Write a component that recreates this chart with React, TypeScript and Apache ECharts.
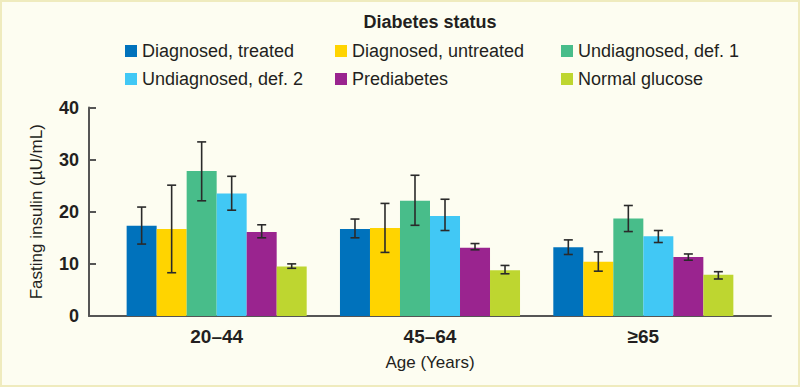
import React, { useEffect, useRef } from "react";
import * as echarts from "echarts";

const categories = ["20–44", "45–64", "≥65"];
const seriesNames = [
  "Diagnosed, treated",
  "Diagnosed, untreated",
  "Undiagnosed, def. 1",
  "Undiagnosed, def. 2",
  "Prediabetes",
  "Normal glucose",
];
const colors = ["#0072BC", "#FFD400", "#48BD8A", "#41C8F5", "#9A248F", "#BED630"];

const diagnosedTreated = [17.3, 16.7, 13.2];
const diagnosedUntreated = [16.7, 16.9, 10.4];
const undiagnosedDef1 = [27.8, 22.1, 18.7];
const undiagnosedDef2 = [23.5, 19.2, 15.3];
const prediabetes = [16.1, 13.1, 11.3];
const normalGlucose = [9.5, 8.8, 7.9];

const diagnosedTreatedLow = [13.8, 15.0, 11.8];
const diagnosedTreatedHigh = [20.9, 18.6, 14.6];
const diagnosedUntreatedLow = [8.3, 12.2, 8.6];
const diagnosedUntreatedHigh = [25.1, 21.6, 12.3];
const undiagnosedDef1Low = [22.1, 17.4, 16.2];
const undiagnosedDef1High = [33.4, 27.0, 21.2];
const undiagnosedDef2Low = [20.3, 16.4, 14.1];
const undiagnosedDef2High = [26.8, 22.4, 16.4];
const prediabetesLow = [15.0, 12.7, 10.7];
const prediabetesHigh = [17.5, 13.9, 11.9];
const normalGlucoseLow = [9.15, 8.1, 7.1];
const normalGlucoseHigh = [10.0, 9.7, 8.5];

const yTicks = [0, 10, 20, 30, 40];

const values = [diagnosedTreated, diagnosedUntreated, undiagnosedDef1, undiagnosedDef2, prediabetes, normalGlucose];
const lows = [diagnosedTreatedLow, diagnosedUntreatedLow, undiagnosedDef1Low, undiagnosedDef2Low, prediabetesLow, normalGlucoseLow];
const highs = [diagnosedTreatedHigh, diagnosedUntreatedHigh, undiagnosedDef1High, undiagnosedDef2High, prediabetesHigh, normalGlucoseHigh];

const FONT = "'Liberation Sans', Arial, sans-serif";
const TEXT = "#231f20";
const GAP_RATIO = 0.156;

export default function App() {
  const ref = useRef<HTMLDivElement>(null);
  useEffect(() => {
    document.body.style.margin = "0";
    const chart = echarts.init(ref.current!, null, { renderer: "svg" });
    const n = seriesNames.length;
    const bars = seriesNames.map((name, i) => ({
      name,
      type: "bar",
      xAxisIndex: 0,
      yAxisIndex: 0,
      data: values[i],
      itemStyle: { color: colors[i] },
      barGap: "0%",
      barCategoryGap: GAP_RATIO * 100 + "%",
    }));
    const errs = seriesNames.map((name, i) => ({
      type: "custom",
      xAxisIndex: 0,
      yAxisIndex: 0,
      silent: true,
      z: 5,
      data: categories.map((_, c) => [c, lows[i][c], highs[i][c]]),
      encode: { x: 0, y: [1, 2] },
      renderItem: (params: any, api: any) => {
        const c = api.value(0);
        const bandW = api.size([1, 0])[0];
        const barW = (bandW * (1 - GAP_RATIO)) / n;
        const p1 = api.coord([c, api.value(1)]);
        const p2 = api.coord([c, api.value(2)]);
        const x = p1[0] + (i - (n - 1) / 2) * barW;
        const hw = 4.5;
        const style = { stroke: "#2a2a2a", lineWidth: 1.6 };
        return {
          type: "group",
          children: [
            { type: "line", shape: { x1: x, y1: p1[1], x2: x, y2: p2[1] }, style },
            { type: "line", shape: { x1: x - hw, y1: p1[1], x2: x + hw, y2: p1[1] }, style },
            { type: "line", shape: { x1: x - hw, y1: p2[1], x2: x + hw, y2: p2[1] }, style },
          ],
        };
      },
    }));
    const legendCommon = {
      orient: "vertical",
      top: 42,
      padding: 0,
      itemWidth: 12,
      itemHeight: 12,
      itemGap: 10,
      icon: "rect",
      selectedMode: false,
      textStyle: { fontFamily: FONT, fontSize: 18, color: TEXT, lineHeight: 18 },
    };
    chart.setOption({
      animation: false,
      backgroundColor: "#FDFDF1",
      graphic: [
        {
          type: "rect",
          shape: { x: 1, y: 1, width: 798, height: 385 },
          style: { fill: "none", stroke: "#EFEBBE", lineWidth: 2 },
        },
        {
          type: "text",
          x: 430,
          y: 22,
          style: {
            text: "Diabetes status",
            fontFamily: FONT,
            fontSize: 18,
            fontWeight: "bold",
            fill: TEXT,
            textAlign: "center",
            textVerticalAlign: "middle",
          },
        },
      ],
      legend: [
        { ...legendCommon, left: 125, data: [seriesNames[0], seriesNames[3]] },
        { ...legendCommon, left: 335, data: [seriesNames[1], seriesNames[4]] },
        { ...legendCommon, left: 561, data: [seriesNames[2], seriesNames[5]] },
      ],
      grid: [
        { left: 110, right: 50, top: 107.5, bottom: 71 },
        { left: 89, right: 29, top: 107.5, bottom: 71 },
      ],
      xAxis: [
        {
          type: "category",
          gridIndex: 0,
          data: categories,
          axisLine: { show: false },
          axisTick: { show: false },
          axisLabel: { fontFamily: FONT, fontSize: 19, fontWeight: "bold", color: TEXT, margin: 11 },
          name: "Age (Years)",
          nameLocation: "middle",
          nameGap: 38,
          nameTextStyle: { fontFamily: FONT, fontSize: 17, color: TEXT },
        },
        {
          type: "value",
          gridIndex: 1,
          min: 0,
          max: 1,
          axisLine: { show: true, lineStyle: { color: "#555555", width: 2 } },
          axisTick: { show: false },
          axisLabel: { show: false },
          splitLine: { show: false },
        },
      ],
      yAxis: [
        {
          type: "value",
          gridIndex: 0,
          min: 0,
          max: 40,
          interval: 10,
          show: false,
        },
        {
          type: "value",
          gridIndex: 1,
          min: yTicks[0],
          max: yTicks[yTicks.length - 1],
          interval: 10,
          axisLine: { show: true, lineStyle: { color: "#555555", width: 2 } },
          axisTick: { show: true, inside: true, length: 7, lineStyle: { color: "#555555", width: 2 } },
          axisLabel: { fontFamily: FONT, fontSize: 18, fontWeight: "bold", color: TEXT, margin: 10 },
          splitLine: { show: false },
          name: "Fasting insulin (µU/mL)",
          nameLocation: "middle",
          nameGap: 44,
          nameTextStyle: { fontFamily: FONT, fontSize: 17, color: TEXT },
        },
      ],
      series: [...bars, ...errs],
    });
    return () => chart.dispose();
  }, []);
  return <div ref={ref} style={{ width: 800, height: 387 }} />;
}
